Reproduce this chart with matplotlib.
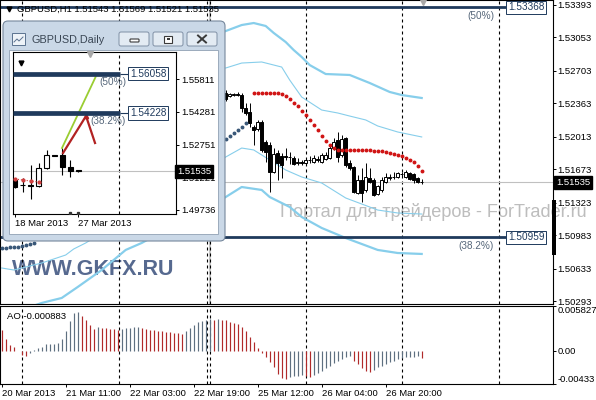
import matplotlib
matplotlib.use("Agg")
import matplotlib.pyplot as plt
import matplotlib.transforms as mtransforms
from matplotlib.patches import Rectangle, FancyBboxPatch

plt.rcParams["font.family"] = ["Liberation Sans", "DejaVu Sans"]
plt.rcParams["font.size"] = 6.8

# ---------- GBPUSD H1 data (index = hourly bar, 0 = 20 Mar 19:00) ----------
ao_values = [
    0.00267, 0.00154, 0.00081, 0.00043, 0.00003, -0.00059, -0.00068, -0.00035, 0.00009, 0.00030,
    0.00052, 0.00082, 0.00089, 0.00091, 0.00098, 0.00150, 0.00260, 0.00384, 0.00488, 0.00508,
    0.00449, 0.00397, 0.00332, 0.00280, 0.00306, 0.00299, 0.00293, 0.00286, 0.00280, 0.00273,
    0.00286, 0.00293, 0.00299, 0.00303, 0.00306, 0.00299, 0.00286, 0.00273, 0.00267, 0.00260,
    0.00254, 0.00247, 0.00241, 0.00234, 0.00228, 0.00221, 0.00260, 0.00299, 0.00339, 0.00378,
    0.00391, 0.00404, 0.00410, 0.00405, 0.00407, 0.00404, 0.00397, 0.00378, 0.00361, 0.00345,
    0.00303, 0.00251, 0.00173, 0.00108, 0.00030, -0.00035, -0.00087, -0.00152, -0.00217, -0.00303,
    -0.00361, -0.00371, -0.00348, -0.00335, -0.00326, -0.00316, -0.00335, -0.00348, -0.00316, -0.00290,
    -0.00260, -0.00225, -0.00195, -0.00160, -0.00130, -0.00108, -0.00087, -0.00065, -0.00130, -0.00173,
    -0.00230, -0.00260, -0.00273, -0.00247, -0.00217, -0.00195, -0.00173, -0.00152, -0.00130, -0.00108,
    -0.00091, -0.00085, -0.00080, -0.00076, -0.00072, -0.000883,
]

candle_first = 56   # earlier candles are hidden behind the daily window
h1_open = [
    1.52471, 1.52440, 1.52450, 1.52461, 1.52450, 1.52314, 1.52272, 1.52115, 1.52094, 1.52168,
    1.51958, 1.51927, 1.51644, 1.51843, 1.51812, 1.51812, 1.51801, 1.51791, 1.51738, 1.51749,
    1.51738, 1.51770, 1.51749, 1.51780, 1.51749, 1.51780, 1.51791, 1.51895, 1.51979, 1.51822,
    1.52000, 1.51738, 1.51697, 1.51424, 1.51560, 1.51456, 1.51581, 1.51560, 1.51414, 1.51456,
    1.51540, 1.51581, 1.51592, 1.51592, 1.51623, 1.51592, 1.51634, 1.51623, 1.51581, 1.51543,
]
h1_high = [
    1.52503, 1.52471, 1.52471, 1.52482, 1.52471, 1.52367, 1.52367, 1.52136, 1.52189, 1.52189,
    1.51979, 1.51958, 1.51895, 1.51875, 1.51843, 1.51895, 1.51854, 1.51812, 1.51791, 1.51770,
    1.51791, 1.51812, 1.51822, 1.51812, 1.51843, 1.51854, 1.51927, 1.52000, 1.52063, 1.52032,
    1.52011, 1.51770, 1.51707, 1.51613, 1.51686, 1.51738, 1.51686, 1.51581, 1.51508, 1.51592,
    1.51634, 1.51623, 1.51644, 1.51644, 1.51644, 1.51665, 1.51644, 1.51634, 1.51592, 1.51569,
]
h1_low = [
    1.52388, 1.52429, 1.52440, 1.52440, 1.52272, 1.52241, 1.52115, 1.51927, 1.52073, 1.51854,
    1.51749, 1.51435, 1.51634, 1.51560, 1.51581, 1.51770, 1.51728, 1.51717, 1.51717, 1.51717,
    1.51728, 1.51738, 1.51738, 1.51749, 1.51738, 1.51770, 1.51780, 1.51875, 1.51749, 1.51801,
    1.51697, 1.51665, 1.51424, 1.51414, 1.51330, 1.51435, 1.51529, 1.51393, 1.51403, 1.51435,
    1.51529, 1.51560, 1.51571, 1.51581, 1.51592, 1.51581, 1.51560, 1.51529, 1.51529, 1.51521,
]
h1_close = [
    1.52409, 1.52461, 1.52461, 1.52450, 1.52314, 1.52262, 1.52157, 1.52084, 1.52168, 1.51875,
    1.51854, 1.51644, 1.51833, 1.51738, 1.51717, 1.51801, 1.51796, 1.51728, 1.51749, 1.51738,
    1.51770, 1.51765, 1.51791, 1.51770, 1.51822, 1.51822, 1.51895, 1.51958, 1.51801, 1.51990,
    1.51717, 1.51686, 1.51435, 1.51560, 1.51424, 1.51592, 1.51540, 1.51403, 1.51498, 1.51560,
    1.51592, 1.51592, 1.51587, 1.51634, 1.51618, 1.51644, 1.51571, 1.51560, 1.51540, 1.51535,
]

sar_up_bars = [0, 1, 2, 3, 4, 5, 6, 7, 8, 56, 57, 58, 59, 60, 61]
sar_up_vals = [1.50848, 1.50848, 1.50854, 1.50859, 1.50864, 1.50869, 1.50880, 1.50890, 1.50901,
               1.51990, 1.52021, 1.52053, 1.52084, 1.52115, 1.52157]
sar_dn_bars = list(range(63, 106))
sar_dn_vals = [
    1.52471, 1.52471, 1.52471, 1.52471, 1.52471, 1.52471, 1.52471, 1.52461, 1.52440, 1.52409,
    1.52367, 1.52335, 1.52283, 1.52241, 1.52189, 1.52136, 1.52084, 1.52021, 1.51969, 1.51927,
    1.51895, 1.51875, 1.51875, 1.51875, 1.51875, 1.51875, 1.51875, 1.51875, 1.51875, 1.51875,
    1.51869, 1.51864, 1.51859, 1.51854, 1.51843, 1.51833, 1.51822, 1.51812, 1.51791, 1.51770,
    1.51749, 1.51707, 1.51655,
]

band_top_bars = [56, 60, 63, 66, 68, 71, 73, 75, 77, 81, 87, 92, 97, 100, 105]
band_top = [1.53120, 1.53183, 1.53204, 1.53173, 1.53100, 1.53005, 1.52921, 1.52848, 1.52764,
            1.52670, 1.52660, 1.52576, 1.52482, 1.52450, 1.52419]
band_top_in_bars = [56, 60, 65, 70, 72, 75, 80, 84, 87, 91, 94, 99, 105]
band_top_in = [1.52733, 1.52785, 1.52796, 1.52743, 1.52607, 1.52429, 1.52293, 1.52262, 1.52230,
               1.52189, 1.52126, 1.52063, 1.52011]
band_bot_in_bars = [0, 3, 10, 16, 18, 21, 56, 60, 63, 67, 71, 75, 80, 86, 94, 99, 105]
band_bot_in = [1.50639, 1.50618, 1.50691, 1.50775, 1.50838, 1.50901, 1.51801, 1.51895, 1.51875,
               1.51770, 1.51665, 1.51592, 1.51529, 1.51372, 1.51246, 1.51215, 1.51204]
band_bot_bars = [5, 10, 15, 19, 25, 31, 35, 56, 60, 65, 67, 72, 75, 80, 86, 94, 99, 105]
band_bot = [1.50199, 1.50273, 1.50325, 1.50440, 1.50618, 1.50828, 1.50901, 1.51382, 1.51487,
            1.51456, 1.51382, 1.51278, 1.51173, 1.51058, 1.50953, 1.50828, 1.50796, 1.50786]

fibo_levels = [1.53368, 1.50959]
fibo_names = ["(50%)", "(38.2%)"]
last_price = 1.51535
price_ticks = [1.53393, 1.53053, 1.52703, 1.52363, 1.52013, 1.51673, 1.51323, 1.50983, 1.50633, 1.50293]
ao_ticks = [0.005827, 0.0, -0.00433]
ao_tick_labels = ["0.005827", "0.00", "-0.00433"]
time_tick_bars = [0, 16, 32, 48, 64, 80, 96]
time_tick_labels = ["20 Mar 2013", "21 Mar 11:00", "22 Mar 03:00", "22 Mar 19:00",
                    "25 Mar 12:00", "26 Mar 04:00", "26 Mar 20:00"]
separator_bars = [5.1, 29.3, 51.3, 52.1, 76.1, 100.1, 124.3]

# ---------- GBPUSD Daily (inset window) ----------
d_open = [1.51125, 1.50893, 1.50870, 1.50846, 1.51681, 1.52285, 1.52285, 1.51728, 1.51589]
d_high = [1.51217, 1.51217, 1.51821, 1.51913, 1.52517, 1.52300, 1.52609, 1.52053, 1.51600]
d_low = [1.50753, 1.50568, 1.50243, 1.50800, 1.51635, 1.52240, 1.51357, 1.51264, 1.51496]
d_close = [1.50800, 1.50870, 1.50846, 1.51681, 1.52285, 1.52260, 1.51728, 1.51542, 1.51535]
d_ticks = [1.55811, 1.54281, 1.52751, 1.51221, 1.49736]
d_tick_bars = [0, 8]
d_tick_labels = ["18 Mar 2013", "27 Mar 2013"]
d_fibo = [1.56058, 1.54228]
d_sar_bars = [0, 1, 2, 3]
d_sar_vals = [1.51171, 1.51125, 1.51078, 1.51032]
d_green_x, d_green_y = [5.95, 10.2], [1.52609, 1.55904]
d_red_x, d_red_y = [6.08, 8.99, 10.13], [1.52377, 1.54094, 1.52841]

NAVY = "#1F3A5C"
BAND = "#87CEEB"
AO_UP, AO_DN = "#5E6F80", "#B02A2A"

W, H = 596, 400
fig = plt.figure(figsize=(W / 100, H / 100), dpi=100)


def px_axes(x0, y0, x1, y1, z=1):
    return fig.add_axes([x0 / W, 1 - y1 / H, (x1 - x0) / W, (y1 - y0) / H], zorder=z)


def kx(px):            # pixel column -> H1 bar index (4 px per bar)
    return (px - 1.7) / 4.0


def dx(px):            # pixel column -> daily bar index in the inset
    return (px - 15.0) / 7.9


def candles(ax, x0, o, h, l, c, width, lw):
    xs = [x0 + i for i in range(len(o))]
    ax.vlines(xs, l, h, color="black", lw=lw, zorder=3)
    bottoms = [min(a, b) for a, b in zip(o, c)]
    heights = [abs(b - a) for a, b in zip(o, c)]
    faces = ["white" if b > a else "black" for a, b in zip(o, c)]
    ax.bar(xs, heights, bottom=bottoms, width=width, color=faces,
           edgecolor="black", linewidth=lw, zorder=4)


def style_axes(ax):
    for s in ax.spines.values():
        s.set_linewidth(0.8)
        s.set_color("black")


# ---------- main H1 pane ----------
ax = px_axes(0, 0, 553, 304)
ax.set_xlim(kx(0), kx(553))
ax.set_ylim(1.50262, 1.53445)
style_axes(ax)
ax.set_xticks([])
ax.yaxis.tick_right()
ax.set_yticks(price_ticks)
ax.set_yticklabels([f"{p:.5f}" for p in price_ticks])
ax.tick_params(axis="y", direction="out", length=2.2, width=0.7, pad=1.0, labelsize=6.8)

for b in separator_bars:
    ax.axvline(b, color="black", lw=0.8, ls=(0, (2.7, 2.7)), zorder=1)
ax.axvline(52.1, color="#C8C8C8", lw=1.5, zorder=0.9)
ax.axhline(last_price, color="#C0C0C0", lw=0.8, zorder=1)

ax.text(280 / 553, 1 - 217 / 304, "Портал для трейдеров - ForTrader.ru", transform=ax.transAxes,
        fontsize=13.1, color="#BDBDBD", va="baseline", ha="left", zorder=0.5, clip_on=False)
ax.text(12 / 553, 1 - 275 / 304, "WWW.GKFX.RU", transform=ax.transAxes, fontsize=15.5,
        fontweight="bold", color="#56698F", va="baseline", ha="left", zorder=0.5)

ax.plot(band_top_bars, band_top, color=BAND, lw=1.6, zorder=2)
ax.plot(band_bot_bars, band_bot, color=BAND, lw=1.6, zorder=2)
ax.plot(band_top_in_bars, band_top_in, color=BAND, lw=0.8, zorder=2)
ax.plot(band_bot_in_bars, band_bot_in, color=BAND, lw=0.8, zorder=2)

ax.plot(sar_up_bars, sar_up_vals, ls="none", marker="o", ms=1.8, color="#3A5878", zorder=5)
ax.plot(sar_dn_bars, sar_dn_vals, ls="none", marker="o", ms=1.8, color="#D01515", zorder=5)

candles(ax, candle_first, h1_open, h1_high, h1_low, h1_close, 0.7, 0.7)

for lvl, name in zip(fibo_levels, fibo_names):
    ax.hlines(lvl, kx(0), kx(506), color=NAVY, lw=2.0, zorder=2)
    ax.text(kx(508), lvl, f"{lvl:.5f}", color=NAVY, fontsize=7.2, va="center", ha="left",
            bbox=dict(boxstyle="square,pad=0.18", fc="white", ec=NAVY, lw=0.7), zorder=6)
    ax.annotate(name, (kx(494), lvl), xytext=(0, -6), textcoords="offset points",
                ha="right", va="center", color="#56677A", fontsize=7.2, zorder=6)

blend = mtransforms.blended_transform_factory(ax.transAxes, ax.transData)
ax.text(1.0 + 3 / 553, last_price, f"{last_price:.5f}", transform=blend, color="white",
        fontsize=6.8, va="center", ha="left", clip_on=False, zorder=7,
        bbox=dict(boxstyle="square,pad=0.2", fc="black", ec="black"))

ax.plot([9 / 553], [1 - 9 / 304], transform=ax.transAxes, marker="v", ms=3.5,
        color="black", clip_on=False)
ax.text(17 / 553, 1 - 9 / 304, "GBPUSD,H1 1.51543 1.51569 1.51521 1.51535",
        transform=ax.transAxes, fontsize=6.8, va="center", ha="left", color="black")
ax.plot([105.2], [0.992], transform=mtransforms.blended_transform_factory(ax.transData, ax.transAxes),
        marker="v", ms=4, color="#A8A8A8", clip_on=False, zorder=6)

# ---------- AO pane ----------
ao = px_axes(0, 306, 553, 384)
ao.set_xlim(kx(0), kx(553))
ao.set_ylim(-0.00433, 0.005827)
style_axes(ao)
ao_bars = list(range(len(ao_values)))
ao_colors = [AO_DN] + [AO_UP if v > p else AO_DN for p, v in zip(ao_values[:-1], ao_values[1:])]
ao.vlines(ao_bars, 0, ao_values, colors=ao_colors, lw=0.85, zorder=2)
for b in separator_bars:
    ao.axvline(b, color="black", lw=0.8, ls=(0, (2.7, 2.7)), zorder=1)
ao.text(7 / 553, 0.87, "AO -0.000883", transform=ao.transAxes, fontsize=6.8, va="center",
        ha="left", color="black")
ao.yaxis.tick_right()
ao.set_yticks(ao_ticks)
ao.set_yticklabels(ao_tick_labels)
ao.tick_params(axis="y", direction="out", length=2.2, width=0.7, pad=1.0, labelsize=6.8)
ylbls = ao.get_yticklabels()
ylbls[0].set_va("top")
ylbls[-1].set_va("bottom")
ao.set_xticks(time_tick_bars)
ao.set_xticklabels(time_tick_labels)
ao.tick_params(axis="x", direction="out", length=2.2, width=0.7, pad=1.2, labelsize=6.8)
for lbl in ao.get_xticklabels():
    lbl.set_ha("left")

# ---------- overlay: child window frame, right-edge marker ----------
ov = px_axes(0, 0, W, H, z=5)
ov.set_xlim(0, W)
ov.set_ylim(H, 0)
ov.axis("off")
ov.patch.set_alpha(0)
ov.add_patch(Rectangle((552, 200), 4, 55, fc="black", ec="none"))
ov.add_patch(FancyBboxPatch((3, 21), 222, 220, boxstyle="round,pad=0,rounding_size=5",
                            fc="#CAD8E7", ec="#76889D", lw=0.8))
ov.add_patch(Rectangle((9, 50), 209, 184, fc="white", ec="#90A0B3", lw=0.6))
ov.text(31, 40, "GBPUSD,Daily", fontsize=7.8, color="#3A4654", va="center", ha="left")
ov.add_patch(Rectangle((12, 33), 13, 12, fc="#EEF3F8", ec="#5C7390", lw=0.7))
ov.plot([14, 17, 19, 23], [42, 39, 41, 37], color="#5C7390", lw=0.7)
for bx in (119, 153, 187):
    ov.add_patch(FancyBboxPatch((bx, 32), 30, 14, boxstyle="round,pad=0,rounding_size=2",
                                fc="#E3EBF3", ec="#7F90A5", lw=0.7))
ov.add_patch(FancyBboxPatch((130, 39), 9, 3, boxstyle="round,pad=0,rounding_size=0.8",
                            fc="white", ec="#3A3A3A", lw=0.8))
ov.add_patch(Rectangle((164, 35.5), 8, 7, fc="white", ec="#3A3A3A", lw=0.8))
ov.add_patch(Rectangle((166.5, 38), 3, 2, fc="#3A3A3A", ec="none"))
ov.plot([198, 206], [35.5, 42.5], color="#3A3A3A", lw=1.4)
ov.plot([198, 206], [42.5, 35.5], color="#3A3A3A", lw=1.4)

# ---------- inset daily chart ----------
ad = px_axes(13, 52, 176, 214, z=6)
ad.set_xlim(dx(13), dx(176))
ad.set_ylim(1.49547, 1.57064)
style_axes(ad)
ad.axvline(dx(119), color="black", lw=0.8, ls=(0, (2.7, 2.7)), zorder=1)
ad.axhline(last_price, color="#C0C0C0", lw=0.8, zorder=1)
ad.plot(d_sar_bars, d_sar_vals, ls=":", lw=0.8, marker="o", ms=2.0, color="#D04040", zorder=5)
ad.plot([7, 8], [1.4960, 1.4961], ls="none", marker="s", ms=1.4, color="#333333", zorder=5)
candles(ad, 0, d_open, d_high, d_low, d_close, 0.62, 0.8)
ad.plot(d_green_x, d_green_y, color="#9ACD32", lw=1.3, zorder=6)
ad.plot(d_red_x, d_red_y, color="#B22222", lw=1.6, zorder=6)
ad.plot([d_red_x[1]], [d_red_y[1]], marker="^", ms=3, color="#B22222", zorder=6)
for lvl, name in zip(d_fibo, fibo_names):
    ad.hlines(lvl, dx(13), dx(120), color=NAVY, lw=3.4, zorder=6)
    ad.hlines(lvl, dx(120), dx(129), color=NAVY, lw=0.8, zorder=6)
    ad.text(dx(130), lvl, f"{lvl:.5f}", color=NAVY, fontsize=7.2, va="center", ha="left",
            bbox=dict(boxstyle="square,pad=0.18", fc="white", ec=NAVY, lw=0.7), zorder=7,
            clip_on=False)
    ad.annotate(name, (dx(126), lvl), xytext=(0, -6), textcoords="offset points",
                ha="right", va="center", color="#56677A", fontsize=7.2, zorder=7)
ad.plot([dx(90)], [0.985], transform=mtransforms.blended_transform_factory(ad.transData, ad.transAxes),
        marker="v", ms=4, color="#A8A8A8", clip_on=False, zorder=7)
ad.plot([dx(21)], [1 - 11 / 162], transform=mtransforms.blended_transform_factory(ad.transData, ad.transAxes),
        marker="v", ms=3.5, color="black", zorder=7)
ad.yaxis.tick_right()
ad.set_yticks(d_ticks)
ad.set_yticklabels([f"{p:.5f}" for p in d_ticks])
ad.tick_params(axis="y", direction="out", length=2.2, width=0.7, pad=1.5, labelsize=6.8)
ad.set_xticks(d_tick_bars)
ad.set_xticklabels(d_tick_labels)
ad.tick_params(axis="x", direction="out", length=2.2, width=0.7, pad=1.2, labelsize=6.8)
for lbl in ad.get_xticklabels():
    lbl.set_ha("left")
dblend = mtransforms.blended_transform_factory(ad.transAxes, ad.transData)
ad.text(1.0 + 1 / 163, last_price, f"{last_price:.5f}", transform=dblend, color="white",
        fontsize=6.8, va="center", ha="left", clip_on=False, zorder=8,
        bbox=dict(boxstyle="square,pad=0.2", fc="black", ec="black"))

fig.savefig("out.png", dpi=100)
